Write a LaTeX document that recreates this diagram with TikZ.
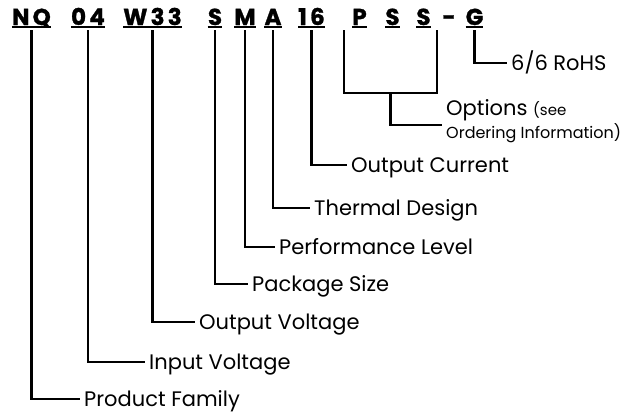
\documentclass[tikz,border=0pt]{standalone}
\usepackage{fontspec}
\setmainfont{Poppins}
\newfontfamily\codefont{Poppins}[UprightFont=* Bold, LetterSpace=14, FakeBold=1.2]
\usetikzlibrary{positioning}

\tikzset{
  codeplain/.style={anchor=base, inner xsep=0pt, inner ysep=5pt, text depth=0pt,
    font=\fontsize{23}{26}\codefont},
  code/.style={codeplain,
    append after command={([yshift=3pt]\tikzlastnode.south west) edge[uline] ([yshift=3pt]\tikzlastnode.south east)}},
  uline/.style={line width=2pt},
  lbl/.style={anchor=west, inner xsep=4pt, inner ysep=0pt, text height=15pt, text depth=0pt,
    font=\fontsize{21}{25}\selectfont},
  lead/.style={line width=2.4pt},
}

\begin{document}
\begin{tikzpicture}[x=1pt, y=-1pt]
  \useasboundingbox (0,0) rectangle (626,415);

  % part number
  \node[code] (nq)    at (31.5,25)  {NQ};
  \node[code] (inv)   at (88,25)    {04};
  \node[code] (outv)  at (152.5,25) {W33};
  \node[code] (pkg)   at (215,25)   {S};
  \node[code] (perf)  at (245,25)   {M};
  \node[code] (therm) at (273,25)   {A};
  \node[code] (cur)   at (311.5,25) {16};
  \node[code] (optp)  at (359.5,25) {P};
  \node[code] (opts)  at (392.5,25) {S};
  \node[code] (optt)  at (423.5,25) {S};
  \node[codeplain] (dash) at (449,25) {-};
  \node[code] (rohs)  at (474.5,25) {G};

  % labels
  \node[lbl] (rohsl)  at (507,63)  {6/6 RoHS};
  \node[lbl, text height=, text depth=, align=left, inner ysep=0pt] (opt) at (442,121)
    {Options {\fontsize{15}{18}\selectfont (see}\\[-2pt]{\fontsize{16}{18}\selectfont Ordering Information)}};
  \node[lbl] (curl)   at (347,165) {Output Current};
  \node[lbl] (therml) at (310,208) {Thermal Design};
  \node[lbl] (perfl)  at (275,247) {Performance Level};
  \node[lbl] (pkgl)   at (248,284) {Package Size};
  \node[lbl] (outvl)  at (195,322) {Output Voltage};
  \node[lbl] (invl)   at (145,362) {Input Voltage};
  \node[lbl] (nql)    at (80,399)  {Product Family};

  % leaders
  \draw[lead] (nq.south)    |- (nql.west);
  \draw[lead] (inv.south)   |- (invl.west);
  \draw[lead] (outv.south)  |- (outvl.west);
  \draw[lead] (pkg.south)   |- (pkgl.west);
  \draw[lead] (perf.south)  |- (perfl.west);
  \draw[lead] (therm.south) |- (therml.west);
  \draw[lead] (cur.south)   |- (curl.west);
  \draw[lead] (rohs.south)  |- (rohsl.west);

  % options bracket
  \coordinate (brl) at ([xshift=-8pt]optp.south west);
  \coordinate (brr) at ([xshift=6pt]optt.south east);
  \coordinate (brbot) at (0,93);
  \draw[lead] (brl) -- (brl |- brbot) -- coordinate[midway] (brm) (brr |- brbot) -- (brr);
  \draw[lead] (brm) |- ([yshift=-4pt]opt.west);
\end{tikzpicture}
\end{document}
